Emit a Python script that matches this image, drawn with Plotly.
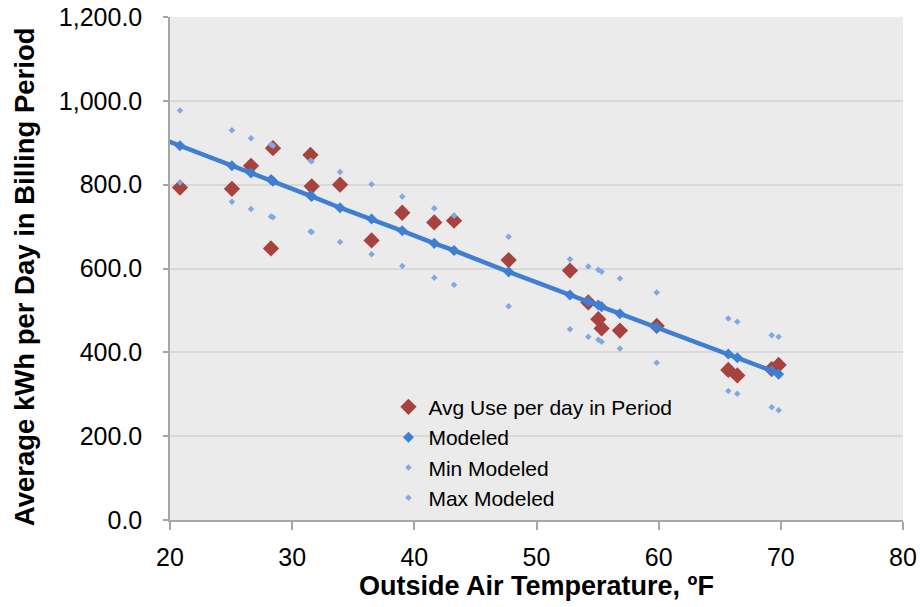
import plotly.graph_objects as go

# Outside air temperature (deg F) for each billing period
temp_f = [20.82, 25.07, 26.63, 28.27, 28.43, 31.50, 31.60, 33.92, 36.50, 39.01,
          41.63, 43.25, 47.72, 52.74, 54.24, 55.06, 55.33, 56.83, 59.84, 65.70,
          66.44, 69.25, 69.82]
avg_use = [793, 790, 845, 648, 887, 871, 796, 800, 667, 733,
           710, 714, 620, 595, 519, 479, 457, 452, 463, 358,
           345, 360, 370]
modeled = [893, 845, 828, 812, 808, 774, 772, 745, 718, 690,
           660, 643, 592, 537, 521, 513, 509, 492, 459, 396,
           387, 356, 348]
min_modeled = [805, 759, 742, 724, 722, 688, 687, 663, 634, 606,
               578, 561, 510, 455, 437, 430, 425, 409, 375, 308,
               301, 269, 262]
max_modeled = [977, 930, 911, 896, 893, 857, 856, 830, 801, 772,
               744, 726, 676, 622, 605, 597, 592, 576, 543, 481,
               473, 441, 437]
# Modeled trend line continues slightly beyond the left edge of the axis
line_x = [19.3] + temp_f
line_y = [910] + modeled

x_ticks = [20, 30, 40, 50, 60, 70, 80]
y_ticks = [0, 200, 400, 600, 800, 1000, 1200]

FONT = "Liberation Sans, Arial, sans-serif"
RED = "#A8423E"
BLUE = "#3F7FD3"
LIGHT = "#7EA9E2"

fig = go.Figure()
fig.add_trace(go.Scatter(x=temp_f, y=avg_use, mode="markers", name="Avg Use per day in Period",
                         marker=dict(symbol="diamond", size=12.5, color=RED)))
fig.add_trace(go.Scatter(x=line_x, y=line_y, mode="lines", showlegend=False,
                         line=dict(color=BLUE, width=4.5), hoverinfo="skip"))
fig.add_trace(go.Scatter(x=temp_f, y=modeled, mode="markers", name="Modeled",
                         marker=dict(symbol="diamond", size=8.5, color=BLUE)))
fig.add_trace(go.Scatter(x=temp_f, y=min_modeled, mode="markers", name="Min Modeled",
                         marker=dict(symbol="diamond", size=5, color=LIGHT)))
fig.add_trace(go.Scatter(x=temp_f, y=max_modeled, mode="markers", name="Max Modeled",
                         marker=dict(symbol="diamond", size=5, color=LIGHT)))

fig.add_annotation(text="Average kWh per Day in Billing Period", textangle=-90,
                   xref="paper", yref="paper", x=-0.199, y=0.483,
                   xanchor="center", yanchor="middle", showarrow=False,
                   font=dict(size=27.5, family=FONT, weight="bold", color="black"))

fig.update_layout(
    width=920, height=607,
    margin=dict(l=170, r=17, t=17, b=87),
    paper_bgcolor="white",
    plot_bgcolor="#EBEBEB",
    font=dict(family=FONT, color="black"),
    showlegend=True,
    legend=dict(x=0.298, y=0.265, xanchor="left", yanchor="top",
                bgcolor="rgba(0,0,0,0)", font=dict(size=21, family=FONT),
                tracegroupgap=0),
    xaxis=dict(range=[20, 80], tickvals=x_ticks, ticktext=[str(v) for v in x_ticks],
               automargin=False,
               showgrid=False, zeroline=False, showline=True, linecolor="#A6A6A6", linewidth=1.5,
               ticks="outside", ticklen=8, tickcolor="#A6A6A6", tickwidth=1.5,
               tickfont=dict(size=25, family=FONT), ticklabelstandoff=6,
               title=dict(text="Outside Air Temperature, ºF",
                          font=dict(size=27, family=FONT, weight="bold"), standoff=5)),
    yaxis=dict(range=[0, 1200], tickvals=y_ticks, tickformat=",.1f",
               automargin=False,
               showgrid=True, gridcolor="#D9D9D9", gridwidth=1.5, zeroline=False,
               showline=True, linecolor="#A6A6A6", linewidth=1.5,
               ticks="outside", ticklen=5, tickcolor="#A6A6A6", tickwidth=1.5,
               tickfont=dict(size=25, family=FONT), ticklabelstandoff=16),
)

fig.write_html("out.html", config={"displayModeBar": False},
               post_script="document.body.style.margin='0';")
